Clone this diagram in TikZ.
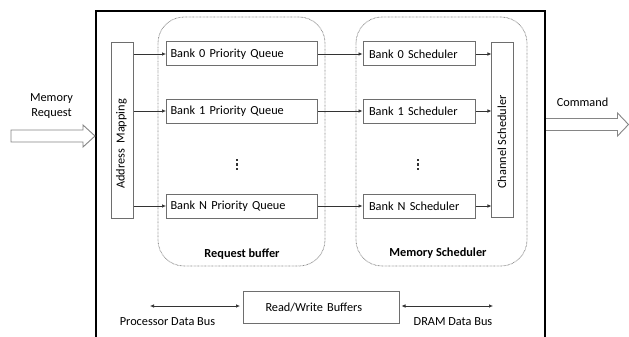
\documentclass[tikz,border=0pt]{standalone}
\usepackage{fontspec}
\setmainfont{Carlito}
\usetikzlibrary{arrows.meta}
\definecolor{boxline}{HTML}{6E6E6E}
\definecolor{arrline}{HTML}{333333}
\definecolor{groupline}{HTML}{8C8C8C}
\definecolor{fatline}{HTML}{858585}
\begin{document}
\begin{tikzpicture}[x=1pt,y=-1pt,
  font=\fontsize{12.3}{15}\selectfont,
  box/.style={draw=boxline, line width=1pt, inner sep=0pt, minimum height=24pt},
  queuebox/.style={box, minimum width=151pt, text width=143pt, inner xsep=4pt, align=left},
  schedbox/.style={box, minimum width=112pt, text width=100pt, inner xsep=6pt, align=left},
  tallbox/.style={box, minimum width=22pt, minimum height=175pt},
  group/.style={draw=groupline, line width=0.8pt, dash pattern=on 0.7pt off 0.7pt, rounded corners=26pt},
  arr/.style={draw=arrline, line width=0.7pt, -{Latex[length=4pt,width=3.6pt]}},
  biarr/.style={draw=arrline, line width=0.7pt, {Latex[length=4pt,width=3.6pt]}-{Latex[length=4pt,width=3.6pt]}},
  fat/.style={draw=fatline, line width=0.9pt, fill=white, line join=miter},
  dotmark/.style={fill=arrline, draw=none}
]
\useasboundingbox (0,0) rectangle (629,337);

% controller enclosure (open at the bottom)
\draw[black, line width=2.2pt] (96,337) -- (96,11) -- (545,11) -- (545,337);

% dotted groups
\draw[group] (158,17) rectangle (325,266);
\draw[group] (356,17) rectangle (527,266);
\node[font=\fontsize{12.3}{15}\selectfont\bfseries] (rbl) at (242,254) {Request buffer};
\node[font=\fontsize{12.3}{15}\selectfont\bfseries] (msl) at (438,253) {Memory Scheduler};

% address mapping
\node[tallbox] (am) at (122,130.5) {};
\node[rotate=90] (amt) at (121.5,144) {Address\ \ Mapping};

% priority queues
\node[queuebox] (pq0) at (242,54) {Bank 0 Priority Queue};
\node[queuebox] (pq1) at (242,111) {Bank 1 Priority Queue};
\node[queuebox] (pqn) at (242,206) {Bank N Priority Queue};

% bank schedulers
\node[schedbox] (s0) at (419,54) {Bank 0 Scheduler};
\node[schedbox] (s1) at (419,111) {Bank 1 Scheduler};
\node[schedbox] (sn) at (419,206) {Bank N Scheduler};

% channel scheduler
\node[tallbox, minimum width=21.5pt, minimum height=174pt] (ch) at (502.7,130) {};
\node[rotate=90] (cht) at (501.8,142) {Channel Scheduler};

% vertical ellipses
\foreach \x in {237,418}{
  \foreach \y in {160,164.5,169}{
    \fill[dotmark] (\x-1.1,\y-1.1) rectangle (\x+1.1,\y+1.1);
  }
}

% connectors
\foreach \q in {pq0,pq1,pqn}{
  \draw[arr] (am.east |- \q.west) -- (\q.west);
}
\draw[arr] (pq0.east) -- (s0.west);
\draw[arr] (pq1.east) -- (s1.west);
\draw[arr] (pqn.east) -- (sn.west);
\foreach \s in {s0,s1,sn}{
  \draw[arr] (\s.east) -- (ch.west |- \s.east);
}

% memory request input
\node[align=center, font=\fontsize{12.3}{15}\selectfont] (mreq) at (51.5,106.5) {Memory\\Request};
\draw[fat] (11,130) -- (83,130) -- (83,125) -- (95,136) -- (83,147) -- (83,142) -- (11,142) -- cycle;

% command output
\node (cmd) at (582.5,102.5) {Command};
\draw[fat] (546,118.5) -- (617.5,118.5) -- (617.5,113) -- (628.5,124.5) -- (617.5,136) -- (617.5,130.5) -- (546,130.5);

% data buffers
\node[box, minimum width=156pt, minimum height=32pt, text width=111pt, align=left] (rw) at (321,307) {Read/Write Buffers};
\coordinate (pbus) at (150,306);
\coordinate (dbus) at (493,306);
\draw[biarr] (pbus) -- ([xshift=-2.5pt]rw.west |- pbus);
\draw[biarr] ([xshift=2pt]rw.east |- dbus) -- (dbus);
\node (pbl) at (167.5,322) {Processor Data Bus};
\node (dbl) at (453,322) {DRAM Data Bus};
\end{tikzpicture}
\end{document}
